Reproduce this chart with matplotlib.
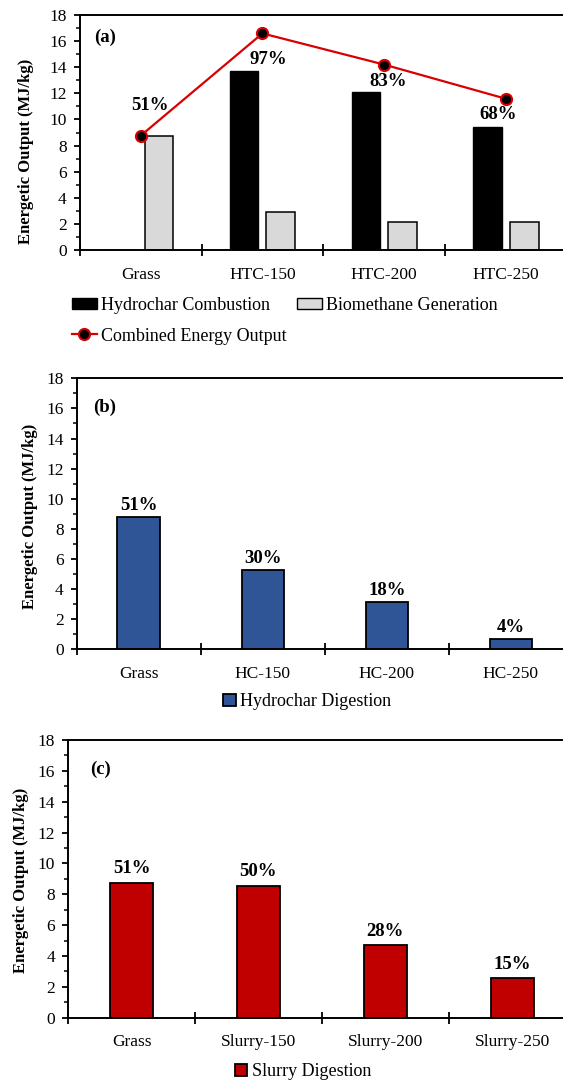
import numpy as np
import matplotlib.pyplot as plt
from matplotlib.lines import Line2D
from matplotlib.patches import Patch
from matplotlib.ticker import MultipleLocator

plt.rcParams['font.family'] = ['Liberation Serif', 'DejaVu Serif']

# panel (a) - HTC route
htc_labels = ['Grass', 'HTC-150', 'HTC-200', 'HTC-250']
hydrochar_combustion = [0, 13.68, 12.10, 9.44]
biomethane_generation = [8.75, 2.91, 2.12, 2.17]
combined_output = [8.75, 16.59, 14.20, 11.58]
combined_pct = ['51%', '97%', '83%', '68%']

# panel (b) - hydrochar digestion
hc_labels = ['Grass', 'HC-150', 'HC-200', 'HC-250']
hydrochar_digestion = [8.77, 5.27, 3.12, 0.66]
hc_pct = ['51%', '30%', '18%', '4%']

# panel (c) - slurry digestion
slurry_labels = ['Grass', 'Slurry-150', 'Slurry-200', 'Slurry-250']
slurry_digestion = [8.75, 8.56, 4.71, 2.55]
slurry_pct = ['51%', '50%', '28%', '15%']

W, H = 563, 1084
FS = 12.5
LFS = 13
fig = plt.figure(figsize=(W / 100, H / 100), dpi=100)


def px_axes(left, right, top, bottom):
    # axes box given in pixels of the final image
    return fig.add_axes([left / W, 1 - bottom / H, (right - left) / W, (bottom - top) / H])


def style(ax, cats, ylab_x, ylab_y):
    ax.set_xlim(-0.5, 3.5)
    ax.set_ylim(0, 18)
    ax.yaxis.set_major_locator(MultipleLocator(2))
    ax.yaxis.set_minor_locator(MultipleLocator(1))
    ax.set_xticks(np.arange(-0.5, 4, 1))
    ax.set_xticklabels([])
    ax.set_xticks(range(4), minor=True)
    ax.set_xticklabels(cats, minor=True)
    ax.tick_params(axis='x', which='major', direction='inout', length=8, width=1.3)
    ax.tick_params(axis='x', which='minor', length=0, pad=12, labelsize=FS)
    ax.tick_params(axis='y', which='major', direction='out', length=4.3, width=1.3,
                   labelsize=FS, pad=5)
    ax.tick_params(axis='y', which='minor', direction='out', length=3, width=1.1)
    for s in ['top', 'left', 'bottom']:
        ax.spines[s].set_linewidth(1.4)
    ax.spines['right'].set_visible(False)
    ax.set_ylabel('Energetic Output (MJ/kg)', fontsize=12, fontweight='bold')
    ax.yaxis.set_label_coords(ylab_x, ylab_y)


def panel_tag(txt, x, y):
    fig.text(x / W, 1 - y / H, txt, fontsize=FS + 1, fontweight='bold',
             ha='center', va='center')


x = np.arange(4)

# ---- (a)
ax1 = px_axes(79.7, 567, 15, 250)
style(ax1, htc_labels, -0.094, 0.419)
ax1.bar(x - 0.15, hydrochar_combustion, 0.235, color='black', edgecolor='black', lw=1.0)
ax1.bar(x + 0.15, biomethane_generation, 0.235, color='#D9D9D9', edgecolor='black', lw=1.1)
ax1.plot(x, combined_output, color='#D80000', lw=1.6, marker='o', ms=8,
         mfc='black', mec='#D80000', mew=1.5, zorder=5, clip_on=False)
a_offsets = [(7, 22), (4, -19), (3, -12.5), (-5.5, -11.5)]
for i, (val, lab) in enumerate(zip(combined_output, combined_pct)):
    ax1.annotate(lab, (i, val), xytext=a_offsets[i], textcoords='offset points',
                 ha='center', va='center', fontsize=13.5, fontweight='bold')
panel_tag('(a)', 105, 37)

h_comb = Patch(facecolor='black', edgecolor='black')
h_bio = Patch(facecolor='#D9D9D9', edgecolor='black')
h_line = Line2D([], [], color='#D80000', lw=1.6, marker='o', ms=8,
                mfc='black', mec='#D80000', mew=1.5)
fig.legend([h_comb, h_line, h_bio],
           ['Hydrochar Combustion', 'Combined Energy Output', 'Biomethane Generation'],
           ncol=2, loc='upper left', bbox_to_anchor=(71.8 / W, 1 - 297 / H),
           frameon=False, fontsize=LFS, borderpad=0, borderaxespad=0,
           handlelength=1.4, handleheight=0.62, handletextpad=0.2,
           columnspacing=0.6, labelspacing=0.75, numpoints=1)

# ---- (b)
ax2 = px_axes(76.5, 572.9, 378.3, 649.3)
style(ax2, hc_labels, -0.078, 0.489)
ax2.bar(x, hydrochar_digestion, 0.34, color='#2F5597', edgecolor='black', lw=1.3)
for i, (val, lab) in enumerate(zip(hydrochar_digestion, hc_pct)):
    ax2.annotate(lab, (i, val), xytext=(0, 8.6), textcoords='offset points',
                 ha='center', va='center', fontsize=13.5, fontweight='bold')
panel_tag('(b)', 105, 407)
fig.legend([Patch(facecolor='#2F5597', edgecolor='black', lw=1.3)], ['Hydrochar Digestion'],
           loc='center left', bbox_to_anchor=(222.5 / W, 1 - 702 / H),
           frameon=False, fontsize=LFS, borderpad=0, borderaxespad=0,
           handlelength=0.72, handleheight=0.6, handletextpad=0.25)

# ---- (c)
ax3 = px_axes(68.2, 575.5, 740, 1017.7)
style(ax3, slurry_labels, -0.078, 0.496)
ax3.bar(x, slurry_digestion, 0.34, color='#C00000', edgecolor='black', lw=1.3)
for i, (val, lab) in enumerate(zip(slurry_digestion, slurry_pct)):
    ax3.annotate(lab, (i, val), xytext=(0, 10), textcoords='offset points',
                 ha='center', va='center', fontsize=13.5, fontweight='bold')
panel_tag('(c)', 100.5, 769)
fig.legend([Patch(facecolor='#C00000', edgecolor='black', lw=1.3)], ['Slurry Digestion'],
           loc='center left', bbox_to_anchor=(235 / W, 1 - 1072 / H),
           frameon=False, fontsize=LFS, borderpad=0, borderaxespad=0,
           handlelength=0.68, handleheight=0.6, handletextpad=0.25)

fig.savefig('out.png', dpi=100)
